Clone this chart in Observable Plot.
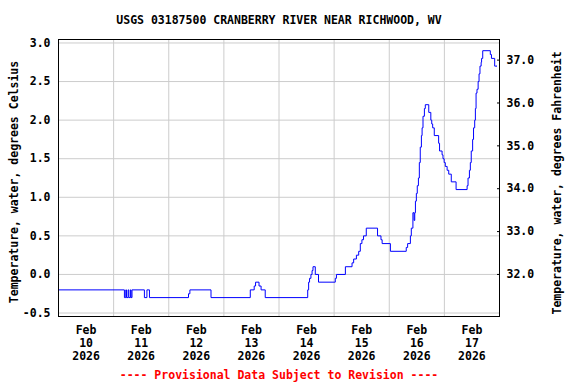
<!DOCTYPE html>
<html><head><meta charset="utf-8">
<script src="https://cdn.jsdelivr.net/npm/d3@7"></script>
<script src="https://cdn.jsdelivr.net/npm/@observablehq/plot@0.6"></script>
<style>body{margin:0;background:#fff}</style>
</head><body><div id="chart"></div>
<script>
const title = "USGS 03187500 CRANBERRY RIVER NEAR RICHWOOD, WV";
const caption = "---- Provisional Data Subject to Revision ----";
const yLabelLeft = "Temperature, water, degrees Celsius";
const yLabelRight = "Temperature, water, degrees Fahrenheit";

// hours since 2026-02-10 00:00 and water temperature (deg C), step series
const hours = [0, 28.7, 29.3, 29.6, 30.3, 30.6, 31.3, 31.6, 32.0, 37.4, 38.5, 39.6,
  56.6, 57.2, 66.4, 83.5, 85.2, 85.8, 87.3, 88.2, 90.0,
  108.5, 108.9, 109.3, 109.9, 110.4, 110.8, 111.8, 113.2, 120.5, 121.0, 124.9, 127.8,
  128.5, 129.7, 130.7, 131.4, 132.1, 132.8, 134.0, 138.9, 140.4, 140.9, 144.5,
  151.4, 152.0, 153.2, 153.6, 154.3, 154.8, 155.1, 155.4, 155.8, 156.2, 156.7, 157.1,
  157.5, 158.0, 158.3, 158.7, 159.3, 159.7, 161.2, 162.1, 162.5, 162.9, 163.6, 165.5,
  165.9, 167.0, 167.4, 167.9, 168.4, 169.2, 169.9, 171.0, 173.1, 177.9, 178.3, 178.9,
  179.3, 179.7, 180.3, 180.7, 181.2, 181.5, 181.8, 182.2, 182.7, 183.1, 183.5, 184.0,
  184.2, 184.7, 188.0, 188.5, 189.9, 190.9];
const celsius = [-0.2, -0.3, -0.2, -0.3, -0.2, -0.3, -0.2, -0.3, -0.2, -0.3, -0.2, -0.3,
  -0.25, -0.2, -0.3, -0.2, -0.15, -0.1, -0.15, -0.2, -0.3,
  -0.2, -0.1, -0.05, 0.0, 0.05, 0.1, 0.0, -0.1, -0.05, 0.0, 0.1, 0.15,
  0.2, 0.25, 0.3, 0.4, 0.45, 0.5, 0.6, 0.5, 0.45, 0.4, 0.3,
  0.35, 0.4, 0.5, 0.6, 0.8, 0.7, 0.8, 0.95, 1.05, 1.15, 1.25, 1.45,
  1.65, 1.8, 1.9, 2.05, 2.15, 2.2, 2.1, 2.0, 1.95, 1.9, 1.8, 1.7,
  1.6, 1.55, 1.5, 1.45, 1.4, 1.35, 1.3, 1.2, 1.1, 1.15, 1.25, 1.35,
  1.45, 1.6, 1.75, 1.9, 2.0, 2.15, 2.35, 2.4, 2.5, 2.6, 2.7, 2.75,
  2.8, 2.9, 2.85, 2.8, 2.7, 2.7];

const celsiusTicks = [-0.5, 0, 0.5, 1, 1.5, 2, 2.5, 3];
const fahrenheitTicks = [32, 33, 34, 35, 36, 37];
const gridDays = ["2026-02-10", "2026-02-11", "2026-02-12", "2026-02-13", "2026-02-14", "2026-02-15", "2026-02-16", "2026-02-17", "2026-02-18"];
const labelDays = ["2026-02-10", "2026-02-11", "2026-02-12", "2026-02-13", "2026-02-14", "2026-02-15", "2026-02-16", "2026-02-17"];
const dayLabels = ["Feb\n10\n2026", "Feb\n11\n2026", "Feb\n12\n2026", "Feb\n13\n2026", "Feb\n14\n2026", "Feb\n15\n2026", "Feb\n16\n2026", "Feb\n17\n2026"];

const t0 = Date.UTC(2026, 1, 10);
const data = hours.map((h, i) => ({date: new Date(t0 + h * 3600e3), value: celsius[i]}));
const gridDates = gridDays.map(d => new Date(d + "T00:00Z"));
const labelDates = labelDays.map(d => new Date(d + "T12:00Z"));
const labelMap = new Map(labelDates.map((d, i) => [+d, dayLabels[i]]));

const chart = Plot.plot({
  width: 576, height: 384,
  marginLeft: 58, marginRight: 77, marginTop: 39, marginBottom: 68,
  style: {fontFamily: "'DejaVu Sans Mono', monospace", fontSize: "11.5px", fontWeight: "bold", background: "#fff", color: "#000"},
  x: {type: "utc", domain: [gridDates[0], gridDates[gridDates.length - 1]]},
  y: {domain: [-0.545, 3.045]},
  marks: [
    Plot.gridY({ticks: celsiusTicks, stroke: "#cccccc", strokeOpacity: 1}),
    Plot.gridX({ticks: gridDates, stroke: "#cccccc", strokeOpacity: 1}),
    Plot.axisY({ticks: celsiusTicks, tickFormat: d => d.toFixed(1), tickSize: 0, tickPadding: 8, label: null}),
    Plot.axisY({anchor: "right", ticks: fahrenheitTicks.map(f => (f - 32) / 1.8), tickFormat: c => (c * 1.8 + 32).toFixed(1), tickSize: -3, tickPadding: 10, label: null}),
    Plot.axisX({ticks: labelDates, tickFormat: d => labelMap.get(+d), tickSize: 0, tickPadding: 9, lineHeight: 1.1, label: null}),
    Plot.line(data, {x: "date", y: "value", curve: "step-after", stroke: "#0000ff", strokeWidth: 1}),
    Plot.frame({stroke: "#000", strokeWidth: 1}),
    Plot.text([title], {frameAnchor: "top", dy: -19.5, text: d => d, fill: "#000", textAnchor: "middle", lineAnchor: "middle"}),
    Plot.text([caption], {frameAnchor: "bottom", dy: 59, text: d => d, fill: "#ff0000", textAnchor: "middle", lineAnchor: "middle"}),
    Plot.text([yLabelLeft], {frameAnchor: "left", rotate: -90, dx: -44, dy: 4, text: d => d, fill: "#000", textAnchor: "middle", lineAnchor: "middle"}),
    Plot.text([yLabelRight], {frameAnchor: "right", rotate: -90, dx: 58, dy: 5, text: d => d, fill: "#000", textAnchor: "middle", lineAnchor: "middle"})
  ]
});
document.getElementById("chart").appendChild(chart);
</script>
</body></html>
